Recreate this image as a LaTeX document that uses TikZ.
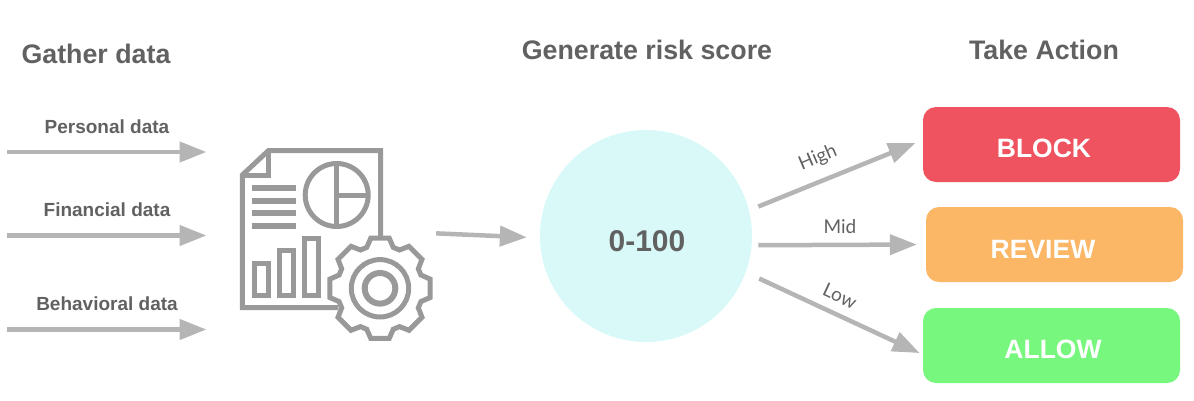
\documentclass[tikz,border=0pt]{standalone}
\usepackage{fontspec}
\setmainfont{Liberation Sans}
\newfontfamily\latofont{Lato}
\usepackage{xcolor}
\usetikzlibrary{arrows.meta}
\definecolor{arrgray}{HTML}{B5B5B5}
\definecolor{icongray}{HTML}{999999}
\definecolor{textgray}{HTML}{616161}
\definecolor{scorefill}{HTML}{D9F9F9}
\definecolor{blockred}{HTML}{EF5360}
\definecolor{revieworange}{HTML}{FBB765}
\definecolor{allowgreen}{HTML}{77F77D}

\begin{document}
\begin{tikzpicture}[
      x=1pt, y=-1pt,
      title/.style={font=\fontsize{26.8}{28}\selectfont\bfseries, text=textgray, inner sep=0pt},
      inlabel/.style={font=\fontsize{19}{20}\selectfont\bfseries, text=textgray, inner sep=0pt},
      level/.style={font=\fontsize{19}{20}\selectfont\latofont, text=textgray, inner sep=0pt},
      action/.style={rounded corners=13pt, minimum width=257pt, minimum height=75pt, inner sep=0pt},
      acttext/.style={font=\fontsize{26.5}{30}\selectfont\bfseries, text=white, inner sep=0pt},
      arr/.style={draw=arrgray, line width=4.5pt, -{Triangle[length=27pt, width=20pt, fill=arrgray]}},
      iconline/.style={draw=icongray, line width=5pt, miter limit=10}
    ]
    \useasboundingbox (0,0) rectangle (1194,400);

    % headings
    \node[title] (gather) at (96,54) {Gather data};
    \node[title] (generate) at (647,50) {Generate risk score};
    \node[title] (take) at (1044,50) {Take Action};

    % inputs
    \coordinate (pin) at (7,152);
    \coordinate (pout) at (206.5,152);
    \coordinate (fin) at (7,235.5);
    \coordinate (fout) at (206.5,235.5);
    \coordinate (bin) at (7,329.5);
    \coordinate (bout) at (206.5,329.5);
    \node[inlabel] (personal) at (107,127) {Personal data};
    \node[inlabel] (financial) at (107,210) {Financial data};
    \node[inlabel] (behavioral) at (107,304) {Behavioral data};
    \draw[arr] (pin) -- (pout);
    \draw[arr] (fin) -- (fout);
    \draw[arr] (bin) -- (bout);

    % report icon
    \node[minimum width=192pt, minimum height=194pt, inner sep=0pt] (report) at (336,245) {};
    \draw[iconline] (338.3,307.7) -- (242.3,307.7) -- (242.3,175) -- (268.3,150.7) -- (380.7,150.7) -- (380.7,236);
    \draw[iconline] (242.3,175) -- (268.3,175) -- (268.3,150.7);
    \foreach \y in {188.3,200.7,213.3,226} {
      \draw[icongray, line width=6pt] (252.3,\y) -- (296,\y);
    }
    \draw[iconline] (336.7,195) circle[radius=31.5];
    \draw[iconline] (336.7,163.5) -- (336.7,226.5) (336.7,195) -- (368.2,195);
    \draw[iconline] (254.7,263) rectangle (268.7,295.3);
    \draw[iconline] (279.7,250.7) rectangle (293.7,295.3);
    \draw[iconline] (304.7,238.3) rectangle (318.7,295.3);
    \begin{scope}[shift={(380,288.3)}]
      \draw[iconline] (-18:43) -- (-10.4:51) -- (10.4:51) -- (18:43)
        \foreach \a in {45,90,...,315} { -- (\a-18:43) -- (\a-10.4:51) -- (\a+10.4:51) -- (\a+18:43) } -- cycle;
      \draw[iconline] (0,0) circle[radius=28.7];
      \draw[icongray, line width=6pt] (0,0) circle[radius=15.3];
    \end{scope}

    % score
    \node[circle, fill=scorefill, minimum size=212pt, inner sep=0pt] (score) at (646,236) {};
    \node[font=\fontsize{30}{32}\selectfont\bfseries, text=textgray, inner sep=0pt] (range) at (647,241) {0-100};
    \draw[arr, shorten <=4pt, shorten >=13pt] (report.7) -- (score.181);

    % actions
    \node[action, fill=blockred, label={[acttext, xshift=-7.5pt, yshift=-3.5pt]center:BLOCK}] (block) at (1051.5,144.5) {};
    \node[action, fill=revieworange, label={[acttext, xshift=-11.5pt, yshift=-4.5pt]center:REVIEW}] (review) at (1054.5,244.5) {};
    \node[action, fill=allowgreen, label={[acttext, xshift=1.5pt, yshift=-3.5pt]center:ALLOW}] (allow) at (1051.5,345.5) {};

    \draw[arr, shorten <=10pt, shorten >=8pt] (score.14) -- (block.178);
    \draw[arr, shorten <=6.5pt, shorten >=9pt] (score.-5) -- (review.west);
    \draw[arr, shorten <=14.8pt, shorten >=3.5pt] (score.-20) -- (allow.184);
    \node[level, rotate=23] (high) at (818,158) {High};
    \node[level] (mid) at (840,227) {Mid};
    \node[level, rotate=-25] (low) at (840,296) {Low};
  \end{tikzpicture}
\end{document}
